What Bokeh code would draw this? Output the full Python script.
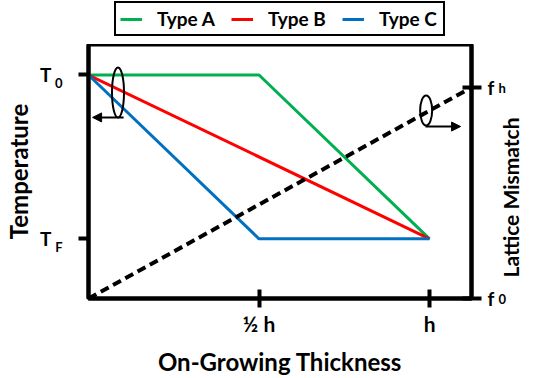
import math
from bokeh.plotting import figure
from bokeh.layouts import column
from bokeh.models import (Range1d, LinearAxis, FixedTicker, Arrow,
                          NormalHead, Legend, LegendItem)
from bokeh.embed import file_html
from bokeh.resources import INLINE

# ---- data ----
T0 = 0.88          # initial temperature level
TF = 0.235         # final temperature level
x_max = 1.123      # right edge of thickness axis (in units of h)
fh = 1.0           # lattice mismatch at right edge
f0 = 0.0
f_top = 1.204      # top of the mismatch scale

thickness = [0.0, 0.5, 1.0]
type_a = [T0, T0, TF]
thickness_b = [0.0, 1.0]
type_b = [T0, TF]
type_c = [T0, TF, TF]
mismatch_x = [0.0, x_max]
mismatch = [f0, fh]

series_names = ["Type A", "Type B", "Type C"]
series_colors = ["#00B050", "#FF0000", "#0070C0"]

x_ticks = [0.5, 1.0]
x_tick_labels = ["½ h", "h"]
temp_ticks = [TF, T0]
temp_tick_main = ["T", "T"]
temp_tick_sub = ["F", "0"]
f_ticks = [f0, fh]
f_tick_main = ["f", "f"]
f_tick_sub = ["0", "h"]

FONT = "Lato"
BLACK = "black"
FRAME_H = 254          # plot frame height in px
SUB_DROP = 8           # subscript drop in px

p = figure(width=541, height=334, x_range=Range1d(0, x_max), y_range=Range1d(0, 1),
           output_backend="svg", toolbar_location=None,
           min_border_left=88, min_border_right=70, min_border_top=0, min_border_bottom=80)
d = SUB_DROP / FRAME_H
p.extra_y_ranges = {"f": Range1d(0, f_top), "tsub": Range1d(d, 1 + d)}
p.grid.visible = False
p.outline_line_color = BLACK
p.outline_line_width = 4
p.outline_line_alpha = 1
p.background_fill_color = "white"
p.border_fill_color = "white"


def style_title(ax, text, size, standoff):
    ax.axis_label = text
    ax.axis_label_text_font = FONT
    ax.axis_label_text_font_style = "bold"
    ax.axis_label_text_font_size = size
    ax.axis_label_text_color = BLACK
    ax.axis_label_standoff = standoff


def style_labels(ax, size, standoff, baseline="middle"):
    ax.major_label_text_font = FONT
    ax.major_label_text_font_style = "bold"
    ax.major_label_text_font_size = size
    ax.major_label_text_color = BLACK
    ax.major_label_standoff = standoff
    ax.major_label_text_baseline = baseline


def bare(ax):
    ax.axis_line_color = None
    ax.major_tick_line_color = None
    ax.major_tick_in = 0
    ax.major_tick_out = 0
    ax.minor_tick_line_color = None


def ticked(ax, t_in, t_out):
    ax.major_tick_in = t_in
    ax.major_tick_out = t_out
    ax.major_tick_line_width = 4
    ax.axis_line_width = 4
    ax.minor_tick_line_color = None
    ax.axis_label_standoff = 0


# bottom axis
xa = p.xaxis[0]
xa.ticker = FixedTicker(ticks=x_ticks)
xa.major_label_overrides = dict(zip(x_ticks, x_tick_labels))
ticked(xa, 9, 9)
style_labels(xa, "21px", 3)
style_title(xa, "On-Growing Thickness", "24px", 8)

# left axis (inner: ticks only)
ya = p.yaxis[0]
ya.ticker = FixedTicker(ticks=temp_ticks)
ya.major_label_overrides = {t: "" for t in temp_ticks}
ticked(ya, 0, 10)
ya.major_label_standoff = 0

# left axis (subscripts, dropped a few px)
ya_sub = LinearAxis(y_range_name="tsub", ticker=FixedTicker(ticks=temp_ticks))
ya_sub.major_label_overrides = dict(zip(temp_ticks, temp_tick_sub))
bare(ya_sub)
ya_sub.axis_label_standoff = 0
style_labels(ya_sub, "13px", 16)
p.add_layout(ya_sub, "left")

# left axis (main letters + title)
ya_t = LinearAxis(ticker=FixedTicker(ticks=temp_ticks))
ya_t.major_label_overrides = dict(zip(temp_ticks, temp_tick_main))
bare(ya_t)
style_labels(ya_t, "19px", 0)
style_title(ya_t, "Temperature", "24px", 4)
p.add_layout(ya_t, "left")

# right axis (inner: ticks + main letters)
ra = LinearAxis(y_range_name="f", ticker=FixedTicker(ticks=f_ticks))
ra.major_label_overrides = dict(zip(f_ticks, f_tick_main))
ticked(ra, 9, 10)
style_labels(ra, "19px", 6)
p.add_layout(ra, "right")

# right axis (subscripts)
ra_sub = LinearAxis(y_range_name="f", ticker=FixedTicker(ticks=f_ticks))
ra_sub.major_label_overrides = dict(zip(f_ticks, f_tick_sub))
bare(ra_sub)
ra_sub.axis_label_standoff = 0
style_labels(ra_sub, "13px", 1, "top")
p.add_layout(ra_sub, "right")

# right axis (title only, reads bottom-to-top; en spaces lift its start)
ra_t = LinearAxis(y_range_name="f", ticker=FixedTicker(ticks=[]))
bare(ra_t)
ra_t.major_label_standoff = 0
style_title(ra_t, "\u2002\u2002Lattice Mismatch", "21px", 1)
ra_t.axis_label_orientation = math.pi / 2
if "axis_label_align" in ra_t.properties():
    ra_t.axis_label_align = "start"
p.add_layout(ra_t, "right")

# lines
for xs, ys, c in zip([thickness, thickness_b, thickness], [type_a, type_b, type_c], series_colors):
    p.line(xs, ys, line_color=c, line_width=3)
p.line(mismatch_x, mismatch, y_range_name="f", line_color=BLACK, line_width=4,
       line_dash="9 5")

# ellipses + arrows (axis indicators)
p.ellipse(x=[0.0865], y=[0.811], width=12, height=50, width_units="screen",
          height_units="screen", fill_color=None, line_color=BLACK, line_width=2)
p.ellipse(x=[0.99], y=[0.740], width=12, height=30, width_units="screen",
          height_units="screen", fill_color=None, line_color=BLACK, line_width=2)
p.add_layout(Arrow(end=NormalHead(size=9, fill_color=BLACK, line_color=BLACK),
                   x_start=0.103, y_start=0.713, x_end=0.012, y_end=0.713,
                   line_width=2, line_color=BLACK))
p.add_layout(Arrow(end=NormalHead(size=9, fill_color=BLACK, line_color=BLACK),
                   x_start=0.988, y_start=0.677, x_end=1.091, y_end=0.677,
                   line_width=2, line_color=BLACK))

# legend strip above the plot (same series styles, drawn out of view)
lf = figure(width=541, height=44, x_range=Range1d(0, 1), y_range=Range1d(5, 6),
            output_backend="svg", toolbar_location=None, min_border=0)
lf.axis.visible = False
lf.grid.visible = False
lf.outline_line_color = None
lf.background_fill_color = "white"
lf.border_fill_color = "white"
items = []
for name, xs, ys, c in zip(series_names, [thickness, thickness_b, thickness],
                           [type_a, type_b, type_c], series_colors):
    r = lf.line(xs, ys, line_color=c, line_width=3)
    items.append(LegendItem(label=name, renderers=[r]))
legend = Legend(items=items, orientation="horizontal", location=(26, 8),
                border_line_color=BLACK, border_line_width=2, border_line_alpha=1,
                label_text_font=FONT, label_text_font_style="bold", label_text_font_size="19px",
                label_text_color=BLACK,
                glyph_width=22, glyph_height=14, label_height=14, label_width=60,
                label_standoff=15, spacing=14, padding=4, margin=0,
                background_fill_color="white")
lf.add_layout(legend)

layout = column(lf, p, spacing=0)
open("out.html", "w").write(file_html(layout, INLINE))
